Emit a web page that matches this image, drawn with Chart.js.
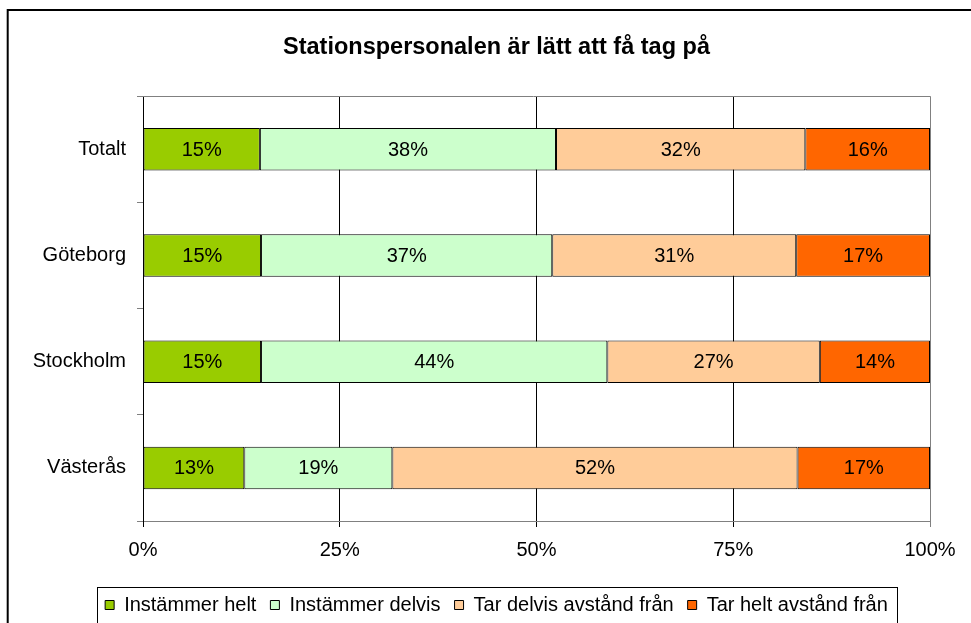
<!DOCTYPE html>
<html lang="sv">
<head>
<meta charset="UTF-8">
<title>Stationspersonalen är lätt att få tag på</title>
<script src="https://cdn.jsdelivr.net/npm/chart.js"></script>
<style>
  html, body { margin: 0; padding: 0; background: #fff; }
  canvas { display: block; }
</style>
</head>
<body>
<canvas id="chart" width="971" height="623"></canvas>
<script>
// answers per city, in percent (rounded, so a row may add up to 101)
const categories = ['Totalt', 'Göteborg', 'Stockholm', 'Västerås'];
const seriesNames = ['Instämmer helt', 'Instämmer delvis', 'Tar delvis avstånd från', 'Tar helt avstånd från'];
const instammerHelt = [15, 15, 15, 13];
const instammerDelvis = [38, 37, 44, 19];
const tarDelvisAvstand = [32, 31, 27, 52];
const tarHeltAvstand = [16, 17, 14, 17];
const xTicks = [0, 25, 50, 75, 100];

const colors = ['#99CC00', '#CCFFCC', '#FFCC99', '#FF6600'];
const FONT = '"Liberation Sans", Arial, sans-serif';

const series = [instammerHelt, instammerDelvis, tarDelvisAvstand, tarHeltAvstand];
// 100 % stacked: each row is scaled to its own total
const rowTotals = categories.map((_, i) => series.reduce((sum, arr) => sum + arr[i], 0));

const datasets = series.map((values, k) => ({
    label: seriesNames[k],
    data: values.map((v, i) => v / rowTotals[i] * 100),
    raw: values,
    backgroundColor: colors[k],
    borderColor: '#000',
    borderWidth: 1,
    borderSkipped: false,
    barPercentage: 0.4,
    categoryPercentage: 1
}));

// percent text in the middle of every segment
const segmentLabels = {
    id: 'segmentLabels',
    afterDatasetsDraw(chart) {
        const ctx = chart.ctx;
        ctx.save();
        ctx.font = '20px ' + FONT;
        ctx.fillStyle = '#000';
        ctx.textAlign = 'center';
        ctx.textBaseline = 'middle';
        chart.data.datasets.forEach((ds, k) => {
            chart.getDatasetMeta(k).data.forEach((bar, i) => {
                ctx.fillText(ds.raw[i] + '%', (bar.x + bar.base) / 2, bar.y + 1);
            });
        });
        ctx.restore();
    }
};

// outer frame, top edge of the plot and the box round the legend
const frames = {
    id: 'frames',
    afterDraw(chart) {
        const ctx = chart.ctx;
        const a = chart.chartArea;
        ctx.save();
        ctx.strokeStyle = '#000';
        ctx.lineWidth = 2;
        ctx.strokeRect(7.7, 10, 1000, 700);

        ctx.lineWidth = 1;
        ctx.strokeStyle = '#808080';
        ctx.beginPath();
        ctx.moveTo(a.left - 6, Math.round(a.top) + 0.5);
        ctx.lineTo(a.right, Math.round(a.top) + 0.5);
        ctx.stroke();

        const boxes = chart.legend.legendHitBoxes;
        const first = boxes[0];
        const last = boxes[boxes.length - 1];
        const cy = first.top + first.height / 2;
        const x0 = Math.round(first.left - 8) + 0.5;
        const x1 = Math.round(last.left + last.width + 9) + 0.5;
        ctx.strokeStyle = '#000';
        ctx.strokeRect(x0, Math.round(cy - 18) + 0.5, x1 - x0, 100);
        ctx.restore();
    }
};

new Chart(document.getElementById('chart'), {
    type: 'bar',
    data: { labels: categories, datasets: datasets },
    plugins: [segmentLabels, frames],
    options: {
        indexAxis: 'y',
        responsive: false,
        animation: false,
        // title and legend are centred over 16..977
        layout: { padding: { left: 16, right: -6, top: 0, bottom: -2 } },
        plugins: {
            title: {
                display: true,
                text: 'Stationspersonalen är lätt att få tag på',
                color: '#000',
                font: { size: 23.5, weight: 'bold', family: FONT },
                padding: { top: 33, bottom: 35 }
            },
            legend: {
                position: 'bottom',
                labels: {
                    boxWidth: 9,
                    boxHeight: 9,
                    padding: 14,
                    color: '#000',
                    font: { size: 20, family: FONT }
                }
            },
            tooltip: { enabled: false }
        },
        scales: {
            x: {
                type: 'linear',
                stacked: true,
                min: 0,
                max: 100,
                afterBuildTicks(scale) {
                    scale.ticks = xTicks.map(v => ({ value: v }));
                },
                ticks: {
                    callback: v => v + '%',
                    color: '#000',
                    font: { size: 20, family: FONT },
                    padding: 11,
                    maxRotation: 0
                },
                grid: {
                    color: c => (c.tick && c.tick.value === 100 ? '#808080' : '#000'),
                    tickLength: 6
                },
                border: { color: '#808080' },
                afterFit(scale) { scale.height = 60; }
            },
            y: {
                type: 'category',
                stacked: true,
                ticks: {
                    color: '#000',
                    font: { size: 20, family: FONT },
                    padding: 11
                },
                grid: {
                    drawOnChartArea: false,
                    offset: true,
                    color: '#808080',
                    tickLength: 6
                },
                border: { color: '#000' },
                afterFit(scale) { scale.width = 127; }
            },
            // empty strip on the right so the plot ends at x = 930
            rightGap: {
                type: 'category',
                axis: 'y',
                position: 'right',
                ticks: { display: false },
                grid: { display: false },
                border: { display: false },
                afterFit(scale) { scale.width = 47; }
            }
        }
    }
});
</script>
</body>
</html>
